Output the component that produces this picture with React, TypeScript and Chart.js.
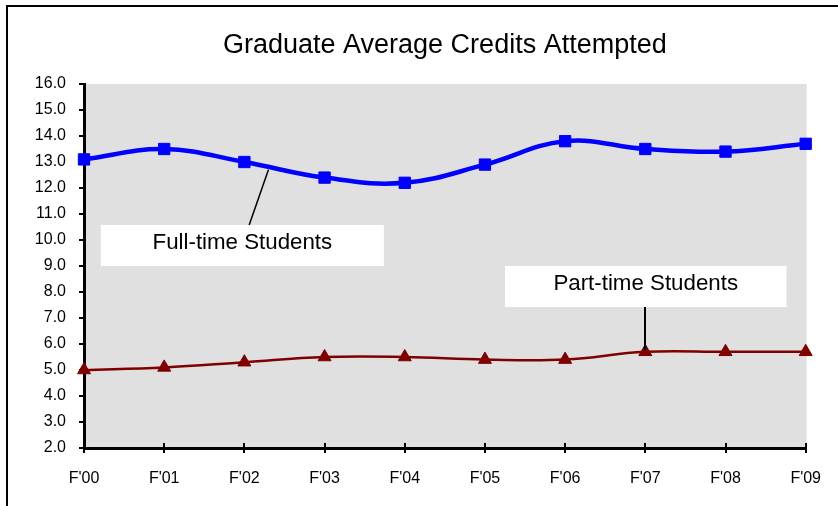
import React, { useEffect, useRef } from 'react';
import { Chart, registerables } from 'chart.js';

Chart.register(...registerables);

const chartTitle = 'Graduate Average Credits Attempted';
const categories = ["F'00", "F'01", "F'02", "F'03", "F'04", "F'05", "F'06", "F'07", "F'08", "F'09"];
const fullTimeLabel = 'Full-time Students';
const partTimeLabel = 'Part-time Students';
const fullTime = [13.1, 13.5, 13.0, 12.4, 12.2, 12.9, 13.8, 13.5, 13.4, 13.7];
const partTime = [5.0, 5.1, 5.3, 5.5, 5.5, 5.4, 5.4, 5.7, 5.7, 5.7];
const yMin = 2;
const yMax = 16;
const yStep = 1;

const FONT = '"Liberation Sans", Arial, sans-serif';

const decorPlugin = {
  id: 'decor',
  beforeDraw(chart: any) {
    const { ctx, chartArea: a } = chart;
    ctx.save();
    ctx.fillStyle = '#ffffff';
    ctx.fillRect(0, 0, chart.width, chart.height);
    ctx.fillStyle = '#e0e0e0';
    ctx.fillRect(a.left, a.top, a.right - a.left + 1, a.bottom - a.top);
    // outer frame
    ctx.strokeStyle = '#000';
    ctx.lineWidth = 2;
    ctx.strokeRect(7, 6, chart.width + 20, chart.height + 20);
    // title
    ctx.fillStyle = '#000';
    ctx.font = `27px ${FONT}`;
    ctx.textAlign = 'center';
    ctx.textBaseline = 'alphabetic';
    ctx.fillText(chartTitle, (a.left + a.right) / 2, 53);
    ctx.restore();
  },
  beforeDatasetsDraw(chart: any) {
    const { ctx, chartArea: a } = chart;
    const xs = chart.scales.x;
    const ys = chart.scales.y;
    ctx.save();
    ctx.strokeStyle = '#000';
    ctx.lineWidth = 2;
    ctx.beginPath();
    for (let v = yMin; v <= yMax; v += yStep) {
      const y = Math.round(ys.getPixelForValue(v));
      ctx.moveTo(a.left - 5, y);
      ctx.lineTo(a.left, y);
    }
    for (let i = 0; i < categories.length; i++) {
      const x = Math.round(xs.getPixelForValue(i));
      ctx.moveTo(x, a.bottom - 5);
      ctx.lineTo(x, a.bottom + 5);
    }
    ctx.stroke();
    ctx.restore();
  },
  afterDatasetsDraw(chart: any) {
    const { ctx } = chart;
    const xs = chart.scales.x;
    const ys = chart.scales.y;
    const box = (i0: number, i1: number, v0: number, v1: number, text: string) => {
      const l = xs.getPixelForValue(i0);
      const r = xs.getPixelForValue(i1);
      const t = ys.getPixelForValue(v0);
      const b = ys.getPixelForValue(v1);
      ctx.fillStyle = '#ffffff';
      ctx.fillRect(l, t, r - l, b - t);
      ctx.fillStyle = '#000';
      ctx.font = `22.3px ${FONT}`;
      ctx.textAlign = 'center';
      ctx.textBaseline = 'alphabetic';
      ctx.fillText(text, (l + r) / 2, b - 17);
      return { l, r, t, b };
    };
    ctx.save();
    ctx.strokeStyle = '#000';
    ctx.lineWidth = 1.5;
    const ft = box(0.21, 3.74, 10.58, 9.0, fullTimeLabel);
    ctx.beginPath();
    ctx.moveTo(xs.getPixelForValue(2.06), ft.t);
    ctx.lineTo(xs.getPixelForValue(2.3), ys.getPixelForValue(12.7));
    ctx.stroke();
    const pt = box(5.25, 8.76, 9.0, 7.42, partTimeLabel);
    ctx.lineWidth = 2;
    ctx.beginPath();
    const px = Math.round(xs.getPixelForValue(7));
    ctx.moveTo(px, pt.b);
    ctx.lineTo(px, ys.getPixelForValue(5.75));
    ctx.stroke();
    ctx.restore();
  },
};

export default function App() {
  const ref = useRef<HTMLCanvasElement>(null);
  useEffect(() => {
    document.body.style.margin = '0';
    const canvas = ref.current!;
    const chart = new Chart(canvas, {
      type: 'line',
      data: {
        labels: categories,
        datasets: [
          {
            label: fullTimeLabel,
            data: fullTime,
            borderColor: '#0000ff',
            backgroundColor: '#0000ff',
            borderWidth: 4.5,
            pointStyle: 'rect',
            pointRadius: 8,
            pointBorderWidth: 1,
            pointBorderColor: '#0000ff',
            pointBackgroundColor: '#0000ff',
            tension: 0.4,
            clip: false as any,
          },
          {
            label: partTimeLabel,
            data: partTime,
            borderColor: '#800000',
            backgroundColor: '#800000',
            borderWidth: 2.5,
            pointStyle: 'triangle',
            pointRadius: 7.5,
            pointBorderWidth: 1,
            pointBorderColor: '#800000',
            pointBackgroundColor: '#800000',
            tension: 0.4,
            clip: false as any,
          },
        ],
      },
      options: {
        animation: false,
        responsive: false,
        devicePixelRatio: 1,
        layout: { padding: { left: 0, right: 28, top: 84, bottom: 0 } },
        plugins: {
          legend: { display: false },
          title: { display: false },
          tooltip: { enabled: false },
        },
        scales: {
          x: {
            type: 'category',
            offset: false,
            grid: { display: false, drawTicks: true, tickLength: 4 },
            border: { display: true, color: '#000', width: 3 },
            ticks: {
              color: '#000',
              font: { family: FONT, size: 16 },
              padding: 17,
              maxRotation: 0,
              autoSkip: false,
            },
            afterFit: (s: any) => {
              s.height = 58;
            },
          },
          y: {
            min: yMin,
            max: yMax,
            grid: { display: false, drawTicks: true, tickLength: 4 },
            border: { display: true, color: '#000', width: 3 },
            ticks: {
              stepSize: yStep,
              color: '#000',
              font: { family: FONT, size: 16 },
              padding: 14,
              callback: (v: any) => Number(v).toFixed(1),
            },
            afterFit: (s: any) => {
              s.width = 84;
            },
          },
        },
      },
      plugins: [decorPlugin],
    });
    return () => chart.destroy();
  }, []);
  return <canvas ref={ref} width={838} height={506} style={{ display: 'block', width: 838, height: 506 }} />;
}
